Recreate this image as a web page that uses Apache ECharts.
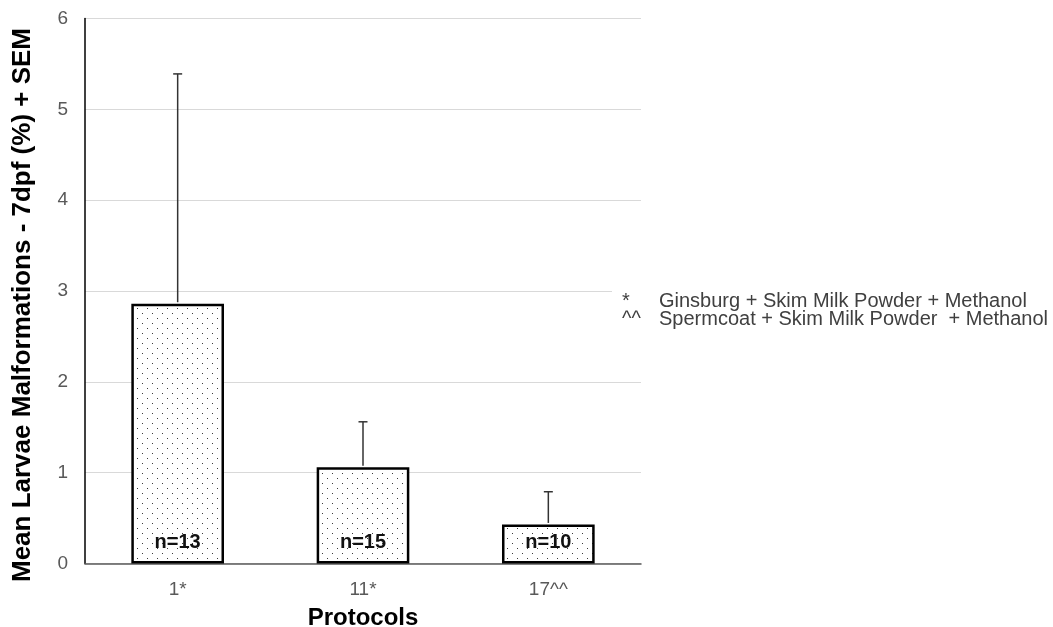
<!DOCTYPE html>
<html>
<head>
<meta charset="utf-8">
<script src="https://cdn.jsdelivr.net/npm/echarts@6/dist/echarts.min.js"></script>
<style>
  html, body { margin: 0; padding: 0; background: #fff; }
  #chart { width: 1053px; height: 627px; }
</style>
</head>
<body>
<div id="chart"></div>
<script>
// Protocol groups and measured values
const protocols = ['1*', '11*', '17^^'];
const meanMalformations = [2.86, 1.06, 0.43];
const sem = [2.53, 0.50, 0.36];
const sampleSizes = [13, 15, 10];
const yTicks = { min: 0, max: 6, step: 1 };
const yTitle = 'Mean Larvae Malformations - 7dpf (%) + SEM';
const xTitle = 'Protocols';
const legendSymbols = ['*', '^^'];
const legendTexts = [
  'Ginsburg + Skim Milk Powder + Methanol',
  'Spermcoat + Skim Milk Powder  + Methanol'
];

// Dotted fill used for the bars
function dotPattern() {
  const c = document.createElement('canvas');
  c.width = 10; c.height = 10;
  const ctx = c.getContext('2d');
  ctx.fillStyle = '#ffffff';
  ctx.fillRect(0, 0, 10, 10);
  ctx.fillStyle = '#3a3a3a';
  ctx.fillRect(2, 3, 1, 1);
  ctx.fillRect(7, 8, 1, 1);
  return c;
}

const chart = echarts.init(document.getElementById('chart'), null, { renderer: 'canvas' });

const errorData = protocols.map((p, i) => [i, meanMalformations[i], meanMalformations[i] + sem[i]]);
const font = 'Liberation Sans, Arial';

chart.setOption({
  animation: false,
  backgroundColor: '#ffffff',
  grid: { left: 85, right: 412, top: 18.5, bottom: 63.5, containLabel: false, outerBoundsMode: 'none' },
  xAxis: {
    type: 'category',
    data: protocols,
    axisLine: { lineStyle: { color: '#595959', width: 1.5 } },
    axisTick: { show: false },
    axisLabel: { color: '#595959', fontSize: 19, fontFamily: font, margin: 17 },
    name: xTitle,
    nameLocation: 'middle',
    nameGap: 43,
    nameTextStyle: { color: '#000', fontSize: 24, fontWeight: 'bold', fontFamily: font }
  },
  yAxis: {
    type: 'value',
    min: yTicks.min,
    max: yTicks.max,
    interval: yTicks.step,
    axisLine: { show: true, lineStyle: { color: '#000', width: 1.5 } },
    axisTick: { show: false },
    splitLine: { lineStyle: { color: '#d9d9d9', width: 1 } },
    axisLabel: { color: '#595959', fontSize: 19, fontFamily: font, margin: 17 }
  },
  series: [
    {
      type: 'bar',
      data: meanMalformations,
      barWidth: '50%',
      itemStyle: {
        color: { image: dotPattern(), repeat: 'repeat' },
        borderColor: '#000',
        borderWidth: 2.5
      },
      label: {
        show: true,
        position: 'insideBottom',
        distance: 11,
        formatter: (p) => 'n=' + sampleSizes[p.dataIndex],
        color: '#111',
        fontSize: 20,
        fontWeight: 'bold',
        fontFamily: font
      },
      z: 2
    },
    {
      type: 'custom',
      data: errorData,
      z: 3,
      renderItem: function (params, api) {
        const x = api.value(0);
        const base = api.coord([x, api.value(1)]);
        const top = api.coord([x, api.value(2)]);
        const half = 4.5;
        const style = { stroke: '#333', lineWidth: 1.5 };
        return {
          type: 'group',
          children: [
            { type: 'line', shape: { x1: base[0], y1: base[1] - 1.5, x2: top[0], y2: top[1] }, style },
            { type: 'line', shape: { x1: top[0] - half, y1: top[1], x2: top[0] + half, y2: top[1] }, style }
          ]
        };
      }
    }
  ],
  graphic: [
    {
      type: 'text', x: 23, y: 305, rotation: Math.PI / 2, z: 11,
      style: {
        text: yTitle, fontSize: 26, fontWeight: 'bold', fill: '#000', fontFamily: font,
        align: 'center', verticalAlign: 'middle'
      }
    },
    { type: 'rect', left: 612, top: 284, shape: { width: 430, height: 46 }, style: { fill: '#fff' }, z: 10 },
    {
      type: 'text', left: 622, top: 291, z: 11,
      style: { text: legendSymbols.join('\n'), fontSize: 20, lineHeight: 18.5, fill: '#404040', fontFamily: font }
    },
    {
      type: 'text', left: 659, top: 291, z: 11,
      style: { text: legendTexts.join('\n'), fontSize: 20, lineHeight: 18.5, fill: '#404040', fontFamily: font }
    }
  ]
});
</script>
</body>
</html>
